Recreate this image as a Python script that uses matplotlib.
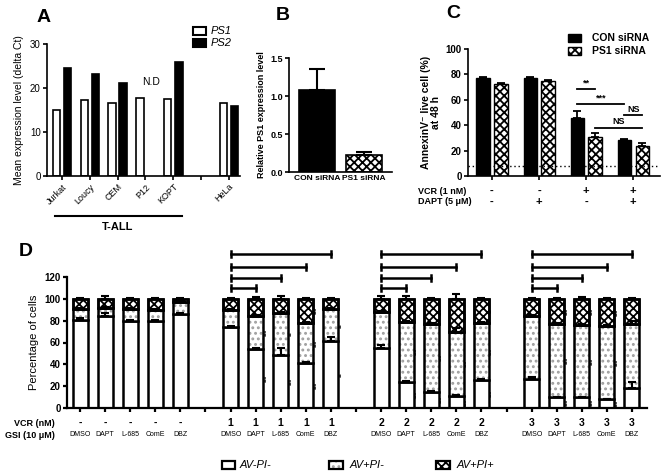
import numpy as np
import matplotlib
matplotlib.use('Agg')
import matplotlib.pyplot as plt
from matplotlib.patches import Rectangle
from matplotlib.transforms import blended_transform_factory

plt.rcParams['font.family'] = ['Liberation Sans', 'DejaVu Sans']
plt.rcParams['hatch.linewidth'] = 1.3

# --- Panel A: PS1 / PS2 expression ---
a_lines = ['Jurkat', 'Loucy', 'CEM', 'P12', 'KOPT', 'HeLa']
a_ps1 = [15.0, 17.2, 16.7, 17.8, 17.5, 16.7]
a_ps2 = [24.5, 23.1, 21.2, np.nan, 25.8, 16.0]

# --- Panel B: PS1 knock-down ---
b_groups = ['CON siRNA', 'PS1 siRNA']
b_mean = [1.08, 0.23]
b_err = [0.27, 0.03]

# --- Panel C: live cells ---
c_con = [77.5, 77.5, 46.0, 28.5]
c_con_err = [0.8, 0.8, 5.0, 0.6]
c_ps1 = [72.5, 74.5, 30.5, 24.0]
c_ps1_err = [0.8, 1.0, 3.5, 2.0]
c_vcr = ['-', '-', '+', '+']
c_dapt = ['-', '+', '-', '+']
c_baseline = 8
# (group, series) -> (group, series), height, label
c_sig = [((2, 0), (2, 1), 68.5, '**'),
         ((2, 0), (3, 0), 56.5, '***'),
         ((3, 0), (3, 1), 48.0, 'NS'),
         ((2, 1), (3, 1), 38.0, 'NS')]

# --- Panel D: annexin / PI staining ---
d_vcr = ['-'] * 5 + ['1'] * 5 + ['2'] * 5 + ['3'] * 5
d_gsi = ['DMSO', 'DAPT', 'L-685', 'ComE', 'DBZ'] * 4
d_live = [81, 84, 80, 80, 86, 74, 54, 49, 41, 61,
          55, 24, 15, 11, 26, 27, 10, 10, 8, 18]
d_early = [9.5, 7.5, 11, 10, 11.5, 16, 30, 38, 37, 29.5,
           33, 55, 62, 59, 52, 57.5, 67, 66, 67, 59]
d_late = [9.5, 8.5, 9, 10, 2.5, 10, 16, 13, 22, 9.5,
          12, 21, 23, 30, 22, 15.5, 23, 24, 25, 23]
d_live_err = [1, 3, 1, 1, 1, 1, 1, 6, 1, 4,
              3, 1, 1, 1, 1, 1, 0.5, 0.5, 0.5, 6]
d_early_err = [1, 1, 1, 1, 1, 1, 1, 1, 1, 1,
               1, 1, 1, 3, 1, 1, 1, 1, 1, 3]
d_total_err = [1, 2.5, 1, 1, 0.5, 1, 2, 2.5, 0.5, 1,
               2.5, 2.5, 1, 4, 1, 1, 1, 1.5, 0.5, 1]
d_sig_live = [''] * 5 + ['', '***', '***', '***', '**'] + \
    ['', '***', '***', '***', '***'] + ['', '***', '***', '***', '']
d_sig_early = [''] * 5 + ['', '***', '**', '***', '**'] + \
    ['', '***', '***', '***', '***'] + ['', '***', '***', '***', '']
d_sig_late = [''] * 5 + ['', '', '', '***', ''] + \
    ['', '*', '***', '***', '**'] + ['', '***', '***', '***', '']

W, H = 664, 476
fig = plt.figure(figsize=(W / 100, H / 100), dpi=100)


def px_axes(l, t, r, b):
    return fig.add_axes([l / W, 1 - b / H, (r - l) / W, (b - t) / H])


def fig_box(x, y, w, h, **kw):
    fig.add_artist(Rectangle((x / W, 1 - (y + h) / H), w / W, h / H,
                             transform=fig.transFigure, **kw))


def style(ax, lw=1.2):
    for s in ['top', 'right']:
        ax.spines[s].set_visible(False)
    for s in ['left', 'bottom']:
        ax.spines[s].set_linewidth(lw)
    ax.tick_params(direction='out', length=3, width=lw, pad=1.5)


CHECK = dict(facecolor='white', edgecolor='black', hatch='xxxx')
DOTS = dict(facecolor='white', edgecolor='#a0a0a0', hatch='...', linewidth=0)

# ================= A =================
axA = px_axes(47, 44, 240, 176)
style(axA)
xa = np.array([i + (i >= 5) for i in range(len(a_lines))])
axA.bar(xa - 0.2, a_ps1, width=0.27, facecolor='white', edgecolor='black', linewidth=1.2)
axA.bar(xa + 0.2, a_ps2, width=0.27, facecolor='black', edgecolor='black', linewidth=1.2)
axA.set_xlim(-0.54, 6.4)
axA.set_ylim(0, 30)
axA.set_yticks([0, 10, 20, 30])
axA.set_xticks(list(xa) + [5])
axA.set_xticklabels(a_lines + [''], rotation=45, ha='right',
                    rotation_mode='anchor', fontsize=6.5)
axA.tick_params(axis='y', labelsize=7)
axA.set_ylabel('Mean expression level (delta Ct)', fontsize=7.5, labelpad=4)
axA.text(3.2, 20.2, 'N.D', ha='center', va='bottom', fontsize=7.5)
tA = blended_transform_factory(axA.transData, axA.transAxes)
axA.plot([-0.25, 4.3], [-0.30, -0.30], color='black', lw=1.5,
         transform=tA, clip_on=False)
axA.text(2.0, -0.39, 'T-ALL', transform=tA, ha='center', va='center',
         fontsize=8, fontweight='bold')
fig.text(44 / W, 1 - 17 / H, 'A', fontsize=14, fontweight='bold', ha='center', va='center')
fig_box(193, 27, 13, 8, facecolor='white', edgecolor='black', linewidth=1.5)
fig_box(193, 39, 13, 8, facecolor='black', edgecolor='black', linewidth=1.5)
fig.text(211 / W, 1 - 31 / H, 'PS1', fontsize=8, style='italic', va='center')
fig.text(211 / W, 1 - 43 / H, 'PS2', fontsize=8, style='italic', va='center')

# ================= B =================
axB = px_axes(289, 58, 392, 172)
style(axB)
xb = np.arange(len(b_groups))
axB.bar(xb[0], b_mean[0], width=0.77, facecolor='black', edgecolor='black', linewidth=1.2)
axB.bar(xb[1], b_mean[1], width=0.77, linewidth=1.2, **CHECK)
axB.errorbar(xb, b_mean, yerr=[np.zeros(2), b_err], fmt='none', ecolor='black',
             elinewidth=1.5, capsize=6, capthick=1.5)
axB.set_xlim(-0.6, 1.6)
axB.set_ylim(0, 1.5)
axB.set_yticks([0, 0.5, 1.0, 1.5])
axB.set_yticklabels(['0.0', '0.5', '1.0', '1.5'], fontsize=6.5, fontweight='bold')
axB.set_xticks(xb)
axB.set_xticklabels(b_groups, fontsize=6, fontweight='bold')
axB.tick_params(axis='x', length=0, pad=2)
axB.set_ylabel('Relative PS1 expression level', fontsize=6.5, fontweight='bold', labelpad=3)
fig.text(283 / W, 1 - 15 / H, 'B', fontsize=14, fontweight='bold', ha='center', va='center')

# ================= C =================
axC = px_axes(468, 49, 660, 176)
style(axC)
xc = np.arange(len(c_con))
off = 0.19
axC.bar(xc - off, c_con, width=0.28, facecolor='black', edgecolor='black', linewidth=1.0)
axC.bar(xc + off, c_ps1, width=0.28, linewidth=1.0, **CHECK)
axC.errorbar(xc - off, c_con, yerr=[np.zeros(4), c_con_err], fmt='none', ecolor='black',
             elinewidth=1.3, capsize=3, capthick=1.3)
axC.errorbar(xc + off, c_ps1, yerr=[np.zeros(4), c_ps1_err], fmt='none', ecolor='black',
             elinewidth=1.3, capsize=3, capthick=1.3)
axC.axhline(c_baseline, color='black', lw=1.0, ls=(0, (1, 2)))
for (g1, s1), (g2, s2), yy, lab in c_sig:
    x1 = g1 + (off if s1 else -off)
    x2 = g2 + (off if s2 else -off)
    axC.plot([x1, x2], [yy, yy], color='black', lw=1.3)
    axC.text((x1 + x2) / 2, yy + 1, lab, ha='center', va='bottom',
             fontsize=6.5, fontweight='bold')
axC.set_xlim(-0.51, 3.57)
axC.set_ylim(0, 100)
axC.set_yticks(range(0, 101, 20))
axC.tick_params(axis='y', labelsize=7)
for t in axC.get_yticklabels():
    t.set_fontweight('bold')
axC.set_xticks(xc)
axC.set_xticklabels([])
axC.set_ylabel('AnnexinV\u207b live cell (%)\nat 48 h', fontsize=7.5,
               fontweight='bold', labelpad=3, linespacing=1.1)
tC = blended_transform_factory(axC.transData, axC.transAxes)
for i in xc:
    axC.text(i, -0.118, c_vcr[i], transform=tC, ha='center', va='center',
             fontsize=8, fontweight='bold')
    axC.text(i, -0.205, c_dapt[i], transform=tC, ha='center', va='center',
             fontsize=8, fontweight='bold')
fig.text(418 / W, 1 - 191 / H, 'VCR (1 nM)', fontsize=6.5, fontweight='bold', va='center')
fig.text(418 / W, 1 - 202 / H, 'DAPT (5 \u03bcM)', fontsize=6.5, fontweight='bold', va='center')
fig.text(453 / W, 1 - 13 / H, 'C', fontsize=14, fontweight='bold', ha='center', va='center')
fig_box(568, 34, 13, 8, facecolor='black', edgecolor='black', linewidth=1.0)
fig_box(568, 47, 13, 8, linewidth=1.0, **CHECK)
fig.text(592 / W, 1 - 38 / H, 'CON siRNA', fontsize=7.5, fontweight='bold', va='center')
fig.text(592 / W, 1 - 51 / H, 'PS1 siRNA', fontsize=7.5, fontweight='bold', va='center')

# ================= D =================
axD = px_axes(67, 277, 647, 408)
style(axD, lw=1.6)
n = len(d_live)
xd = np.array([i + i // 5 for i in range(n)])
live = np.array(d_live, dtype=float)
early = np.array(d_early, dtype=float)
late = np.array(d_late, dtype=float)
bw = 0.6
axD.bar(xd, live, width=bw, facecolor='white', edgecolor='black', linewidth=1.8)
axD.bar(xd, early, bottom=live, width=bw, **DOTS)
axD.bar(xd, early, bottom=live, width=bw, fill=False, edgecolor='black', linewidth=1.8)
axD.bar(xd, late, bottom=live + early, width=bw, linewidth=1.8, **CHECK)
axD.bar(xd, late, bottom=live + early, width=bw, fill=False, edgecolor='black', linewidth=1.8)
ekw = dict(fmt='none', ecolor='black', elinewidth=1.5, capsize=3, capthick=1.5)
axD.errorbar(xd, live, yerr=[np.zeros(n), d_live_err], **ekw)
axD.errorbar(xd, live + early, yerr=[np.zeros(n), d_early_err], **ekw)
axD.errorbar(xd, live + early + late, yerr=[np.zeros(n), d_total_err], **ekw)
for i in range(n):
    segs = [(d_sig_live[i], live[i] / 2),
            (d_sig_early[i], live[i] + early[i] / 2),
            (d_sig_late[i], live[i] + early[i] + late[i] / 2)]
    for lab, yy in segs:
        if lab:
            axD.text(xd[i] + 0.45, yy, lab, rotation=90, ha='center', va='center',
                     fontsize=4.5, fontweight='bold')
# brackets: DMSO vs each inhibitor
bracket_y = [110, 119, 129, 141]
for g in range(1, 4):
    x0 = xd[g * 5]
    for k in range(1, 5):
        x1 = xd[g * 5 + k]
        yy = bracket_y[k - 1]
        axD.plot([x0, x1], [yy, yy], color='black', lw=1.8, clip_on=False)
        for xx in (x0, x1):
            axD.plot([xx, xx], [yy - 2.5, yy + 2.5], color='black', lw=1.8, clip_on=False)
axD.set_xlim(-0.52, 22.6)
axD.set_ylim(0, 120)
axD.set_yticks(range(0, 121, 20))
axD.tick_params(axis='y', labelsize=7)
for t in axD.get_yticklabels():
    t.set_fontweight('bold')
axD.set_xticks(range(0, 23))
axD.set_xticklabels([])
axD.set_ylabel('Percentage of cells', fontsize=8, labelpad=4)
tD = blended_transform_factory(axD.transData, axD.transAxes)
for i in range(n):
    axD.text(xd[i], -0.115, d_vcr[i], transform=tD, ha='center', va='center',
             fontsize=7.5, fontweight='bold')
    axD.text(xd[i], -0.205, d_gsi[i], transform=tD, ha='center', va='center',
             fontsize=5)
fig.text(55 / W, 1 - 423 / H, 'VCR (nM)', fontsize=6.5, fontweight='bold', ha='right', va='center')
fig.text(55 / W, 1 - 435 / H, 'GSI (10 \u03bcM)', fontsize=6.5, fontweight='bold', ha='right', va='center')
fig.text(26 / W, 1 - 252 / H, 'D', fontsize=14, fontweight='bold', ha='center', va='center')

# legend D
fig_box(222, 461, 13, 8, facecolor='white', edgecolor='black', linewidth=1.6)
fig_box(329, 461, 14, 8, **DOTS)
fig_box(329, 461, 14, 8, fill=False, edgecolor='black', linewidth=1.6)
fig_box(436, 461, 14, 8, linewidth=1.6, **CHECK)
for xx, lab in [(240, 'AV-PI-'), (350, 'AV+PI-'), (457, 'AV+PI+')]:
    fig.text(xx / W, 1 - 465 / H, lab, fontsize=8, style='italic', va='center')

fig.savefig('out.png', dpi=100)
